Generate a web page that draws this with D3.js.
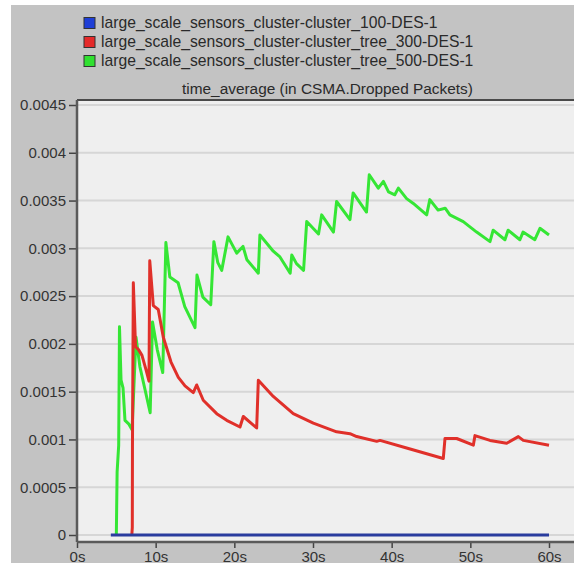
<!DOCTYPE html>
<html>
<head>
<meta charset="utf-8">
<script src="https://cdn.jsdelivr.net/npm/d3@7"></script>
<style>
  body { margin: 0; background: #fff; }
  svg { display: block; font-family: "Liberation Sans", Arial, sans-serif; }
  .tick text { fill: #333; font-size: 15px; }
  .legendText { fill: #2a2a2a; font-size: 15.7px; }
  .title { fill: #2a2a2a; font-size: 15.4px; }
</style>
</head>
<body>
<div id="chart"></div>
<script>
// series names and colors
const seriesNames = [
  "large_scale_sensors_cluster-cluster_100-DES-1",
  "large_scale_sensors_cluster-cluster_tree_300-DES-1",
  "large_scale_sensors_cluster-cluster_tree_500-DES-1"
];
const seriesColors = ["#2a3c9e", "#e0302a", "#35e635"];
const legendColors = ["#1f3fd6", "#e52a2a", "#30e030"];

// [time (s), value]
const cluster100 = [[4.3, 0], [60, 0]];

const tree300 = [
  [6.97, 0], [7.03, 0.00008], [7.05, 0.00092], [7.16, 0.00264], [7.44, 0.00197],
  [7.82, 0.00194], [8.26, 0.00188], [8.77, 0.00173], [9.15, 0.00161], [9.25, 0.00287],
  [9.7, 0.0024], [10.33, 0.00236], [10.97, 0.00207], [11.95, 0.00181], [12.88, 0.00165],
  [13.73, 0.00156], [14.78, 0.00149], [15.22, 0.00157], [16.05, 0.00141], [17.76, 0.00127],
  [19.03, 0.0012], [20.72, 0.00113], [21.14, 0.00124], [22.84, 0.00112], [23.05, 0.00162],
  [24.95, 0.00145], [27.49, 0.00127], [30.04, 0.00117], [33.0, 0.00108], [34.7, 0.00106],
  [35.55, 0.00103], [38.1, 0.00098], [38.52, 0.00099], [41.9, 0.00091], [46.56, 0.0008],
  [46.78, 0.00101], [48.27, 0.00101], [50.38, 0.00094], [50.59, 0.00104], [52.5, 0.00099],
  [54.62, 0.00096], [56.1, 0.00103], [56.73, 0.00099], [60, 0.00094]
];

const tree500 = [
  [5.0, 0], [5.1, 0.00066], [5.3, 0.00094], [5.4, 0.00218], [5.6, 0.00162],
  [5.85, 0.00154], [6.1, 0.0012], [6.6, 0.00116], [7.0, 0.0011], [7.5, 0.00207],
  [8.0, 0.00176], [8.65, 0.00152], [9.3, 0.00128], [9.6, 0.00223], [10.2, 0.00194],
  [10.9, 0.0017], [11.3, 0.00306], [11.8, 0.0027], [12.85, 0.00264], [13.7, 0.00239],
  [15.0, 0.00217], [15.25, 0.00272], [16.0, 0.00249], [17.0, 0.00241], [17.4, 0.00307],
  [17.9, 0.00285], [18.4, 0.00277], [19.2, 0.00312], [20.3, 0.00295], [21.1, 0.00302],
  [21.6, 0.00288], [23.05, 0.00274], [23.25, 0.00314], [24.95, 0.00297], [25.8, 0.00291],
  [27.1, 0.00274], [27.3, 0.00293], [27.9, 0.00284], [28.8, 0.00277], [29.2, 0.00328],
  [30.7, 0.00315], [31.1, 0.00335], [32.6, 0.00317], [33.0, 0.00349], [34.7, 0.0033],
  [35.1, 0.00358], [36.8, 0.00338], [37.15, 0.00377], [38.3, 0.00363], [38.95, 0.0037],
  [39.6, 0.00359], [40.4, 0.00356], [40.85, 0.00363], [41.9, 0.00352], [42.75, 0.00347],
  [44.45, 0.00335], [44.85, 0.00351], [45.9, 0.0034], [46.8, 0.00342], [47.4, 0.00335],
  [49.1, 0.00328], [50.8, 0.00317], [52.5, 0.00307], [52.9, 0.00319], [54.4, 0.00309],
  [54.8, 0.00319], [56.3, 0.00309], [56.7, 0.00317], [58.2, 0.00309], [58.85, 0.00321],
  [60, 0.00314]
];

const yTicks = [0, 0.0005, 0.001, 0.0015, 0.002, 0.0025, 0.003, 0.0035, 0.004, 0.0045];
const xTicks = [0, 10, 20, 30, 40, 50, 60];
const chartTitle = "time_average (in CSMA.Dropped Packets)";

const width = 574, height = 565;
const plot = {left: 77, right: 574, top: 100, bottom: 542};

const svg = d3.select("#chart").append("svg")
  .attr("width", width)
  .attr("height", height);

// grey panel
svg.append("rect")
  .attr("x", 11).attr("y", 5)
  .attr("width", width - 11).attr("height", 558)
  .attr("fill", "#c3c3c3");

// plot background
svg.append("rect")
  .attr("x", plot.left).attr("y", plot.top)
  .attr("width", plot.right - plot.left).attr("height", plot.bottom - plot.top)
  .attr("fill", "#efefef");

let x = d3.scaleLinear().domain([0, 60]).range([77, 549]);
let y = d3.scaleLinear().domain([0, 0.0045]).range([535, 105]);

// gridlines
svg.append("g").selectAll("line")
  .data(yTicks)
  .enter()
  .append("line")
  .attr("x1", plot.left).attr("x2", plot.right)
  .attr("y1", d => y(d)).attr("y2", d => y(d))
  .attr("stroke", "#d6d6d6")
  .attr("stroke-width", 2);

// axes
let yAxis = d3.axisLeft(y)
  .tickValues(yTicks)
  .tickSize(8)
  .tickPadding(3)
  .tickFormat(d => d === 0 ? "0" : String(+d.toFixed(4)));
let gy = svg.append("g")
  .attr("transform", "translate(" + plot.left + ",0)")
  .call(yAxis);
gy.select(".domain").remove();
gy.selectAll(".tick line").attr("stroke", "#444").attr("stroke-width", 1.5);

let xAxis = d3.axisBottom(x)
  .tickValues(xTicks)
  .tickSize(6)
  .tickPadding(3)
  .tickFormat(d => d + "s");
let gx = svg.append("g")
  .attr("transform", "translate(0," + plot.bottom + ")")
  .call(xAxis);
gx.select(".domain").remove();
gx.selectAll(".tick line").attr("stroke", "#444").attr("stroke-width", 1.5);

// frame
svg.append("line")
  .attr("x1", plot.left).attr("x2", plot.right)
  .attr("y1", plot.top).attr("y2", plot.top)
  .attr("stroke", "#4a4a4a").attr("stroke-width", 2);
svg.append("line")
  .attr("x1", plot.left).attr("x2", plot.left)
  .attr("y1", plot.top).attr("y2", plot.bottom)
  .attr("stroke", "#5a5a5a").attr("stroke-width", 2.5);
svg.append("line")
  .attr("x1", plot.left).attr("x2", plot.right)
  .attr("y1", plot.bottom).attr("y2", plot.bottom)
  .attr("stroke", "#5a5a5a").attr("stroke-width", 2.5);

// series lines
let line = d3.line()
  .x(d => x(d[0]))
  .y(d => y(d[1]));

let series = [tree500, tree300, cluster100];
let colors = [seriesColors[2], seriesColors[1], seriesColors[0]];
series.forEach((s, i) => {
  svg.append("path")
    .datum(s)
    .attr("d", line)
    .attr("fill", "none")
    .attr("stroke", colors[i])
    .attr("stroke-width", 3)
    .attr("stroke-linejoin", "round");
});

// legend
let legend = svg.append("g");
seriesNames.forEach((name, i) => {
  let cy = 23 + i * 19;
  legend.append("rect")
    .attr("x", 84).attr("y", cy - 5.5)
    .attr("width", 11).attr("height", 11)
    .attr("fill", legendColors[i])
    .attr("stroke", "#333").attr("stroke-width", 1);
  legend.append("text")
    .attr("class", "legendText")
    .attr("x", 101).attr("y", cy + 5)
    .text(name);
});

// title
svg.append("text")
  .attr("class", "title")
  .attr("x", 182).attr("y", 94)
  .text(chartTitle);
</script>
</body>
</html>
